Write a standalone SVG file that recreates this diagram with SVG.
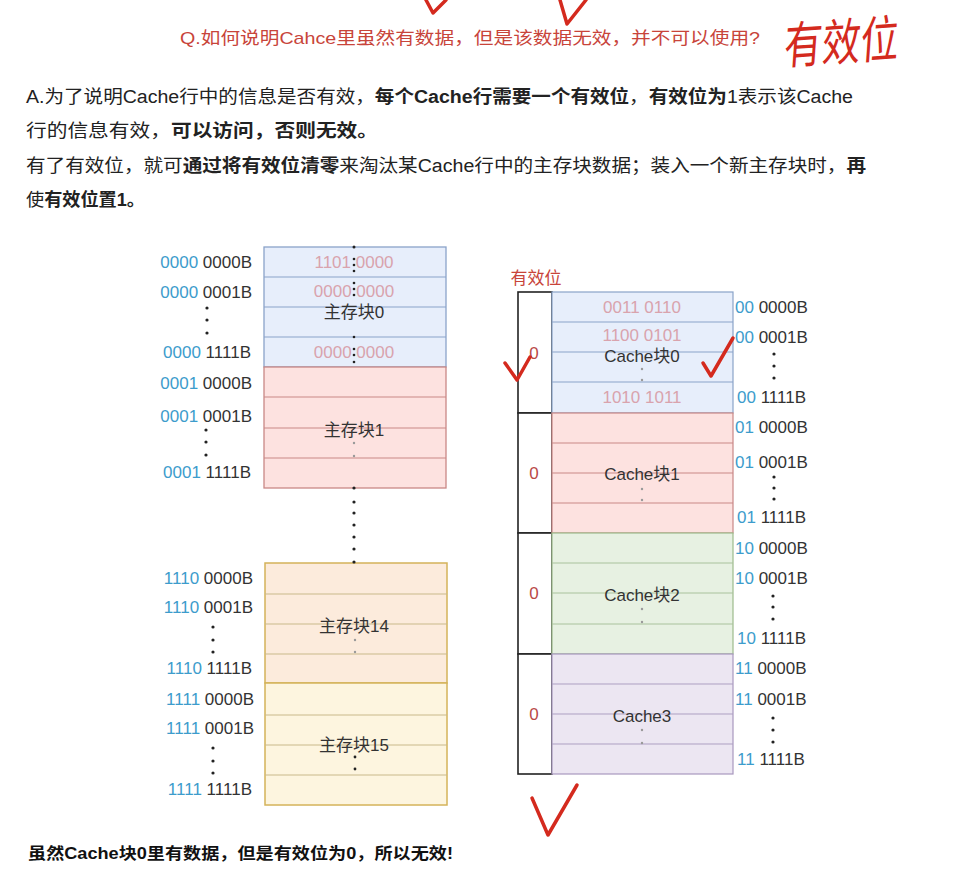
<svg xmlns="http://www.w3.org/2000/svg" width="972" height="896" viewBox="0 0 972 896">
<style>
text{font-family:"Liberation Sans","Noto Sans CJK SC",sans-serif;}
.q{font-size:17px;fill:#c8443a;}
.p{font-size:18px;fill:#222;}
.b{font-weight:bold;}
.addr{font-size:17px;fill:#333;}
.blu{fill:#3d9ccc;}
.pk{font-size:17px;fill:#d9a3ad;text-anchor:middle;}
.lbl{font-size:17px;fill:#333;text-anchor:middle;}
.v{font-size:17px;fill:#b94a48;text-anchor:middle;}
.row{stroke-width:1;fill:none;}
.dot{fill:#222;}
.dim{fill:#999;}
.hand{fill:none;stroke:#d42a1e;stroke-width:3.5;stroke-linecap:round;stroke-linejoin:round;}
.vb{fill:#fff;stroke:#222;stroke-width:1.6;}
</style>
<rect width="972" height="896" fill="#fff"/>

<!-- Header texts -->
<g id="question">
<text class="q" x="180" y="44" textLength="580" lengthAdjust="spacingAndGlyphs">Q.如何说明Cahce里虽然有数据，但是该数据无效，并不可以使用?</text>
</g>
<g id="answer">
<text class="p" x="26" y="103" textLength="827" lengthAdjust="spacingAndGlyphs">A.为了说明Cache行中的信息是否有效，<tspan class="b">每个Cache行需要一个有效位</tspan>，<tspan class="b">有效位为</tspan>1表示该Cache</text>
<text class="p" x="26" y="137" textLength="352" lengthAdjust="spacingAndGlyphs">行的信息有效，<tspan class="b">可以访问，否则无效。</tspan></text>
<text class="p" x="26" y="172" textLength="840" lengthAdjust="spacingAndGlyphs">有了有效位，就可<tspan class="b">通过将有效位清零</tspan>来淘汰某Cache行中的主存块数据；装入一个新主存块时，<tspan class="b">再</tspan></text>
<text class="p" x="26" y="206" textLength="119" lengthAdjust="spacingAndGlyphs">使<tspan class="b">有效位置1。</tspan></text>
</g>

<!-- Main memory blocks -->
<g id="mem0">
<rect x="264" y="247" width="182" height="120" fill="#e7eefb" stroke="#8aa3c9" stroke-width="1.3"/>
<path class="row" stroke="#8aa3c9" d="M264 277H446M264 307H446M264 337H446"/>
<text class="pk" x="354" y="268">1101 0000</text>
<text class="pk" x="354" y="297">0000 0000</text>
<text class="lbl" x="354" y="318">主存块0</text>
<text class="pk" x="354" y="358">0000 0000</text>
<g class="dot"><circle cx="354" cy="247" r="1.5"/><circle cx="354" cy="259" r="1.3"/><circle cx="354" cy="265" r="1.3"/><circle cx="354" cy="271" r="1.3"/><circle cx="354" cy="283" r="1.3"/><circle cx="354" cy="289" r="1.3"/><circle cx="354" cy="295" r="1.3"/><circle cx="354" cy="337" r="1.3"/><circle cx="354" cy="349" r="1.3"/><circle cx="354" cy="355" r="1.3"/><circle cx="354" cy="362" r="1.3"/></g>
</g>
<g id="mem1">
<rect x="264" y="367" width="182" height="121" fill="#fde2e0" stroke="#c98886" stroke-width="1.3"/>
<path class="row" stroke="#c98886" d="M264 397H446M264 428H446M264 458H446"/>
<text class="lbl" x="354" y="436">主存块1</text>
<circle class="dim" cx="354" cy="443" r="1.2"/><circle class="dim" cx="354" cy="456" r="1.2"/>
</g>
<g id="mem14">
<rect x="265" y="563" width="182" height="120" fill="#fcebdc" stroke="#d4b35a" stroke-width="1.5"/>
<path class="row" stroke="#c9b98a" d="M265 594H447M265 624H447M265 654H447"/>
<text class="lbl" x="354" y="632">主存块14</text>
<circle class="dim" cx="355" cy="640" r="1.2"/><circle class="dim" cx="355" cy="652" r="1.2"/>
</g>
<g id="mem15">
<rect x="265" y="683" width="182" height="122" fill="#fdf5df" stroke="#d4b35a" stroke-width="1.5"/>
<path class="row" stroke="#c9b98a" d="M265 715H447M265 745H447M265 775H447"/>
<text class="lbl" x="354" y="751">主存块15</text>
<circle class="dot" cx="355" cy="757" r="1.4"/><circle class="dot" cx="355" cy="769" r="1.4"/>
</g>

<!-- Left address labels -->
<g id="mem-addresses">
<text class="addr" x="252" y="268" text-anchor="end"><tspan class="blu">0000</tspan> 0000B</text>
<text class="addr" x="252" y="298" text-anchor="end"><tspan class="blu">0000</tspan> 0001B</text>
<g class="dot"><circle cx="207" cy="308" r="1.6"/><circle cx="207" cy="320" r="1.6"/><circle cx="207" cy="333" r="1.6"/></g>
<text class="addr" x="251" y="358" text-anchor="end"><tspan class="blu">0000</tspan> 1111B</text>
<text class="addr" x="252" y="389" text-anchor="end"><tspan class="blu">0001</tspan> 0000B</text>
<text class="addr" x="252" y="422" text-anchor="end"><tspan class="blu">0001</tspan> 0001B</text>
<g class="dot"><circle cx="206" cy="430" r="1.6"/><circle cx="206" cy="442" r="1.6"/><circle cx="206" cy="455" r="1.6"/></g>
<text class="addr" x="251" y="478" text-anchor="end"><tspan class="blu">0001</tspan> 1111B</text>
<text class="addr" x="253" y="584" text-anchor="end"><tspan class="blu">1110</tspan> 0000B</text>
<text class="addr" x="253" y="613" text-anchor="end"><tspan class="blu">1110</tspan> 0001B</text>
<g class="dot"><circle cx="213" cy="627" r="1.6"/><circle cx="213" cy="640" r="1.6"/><circle cx="213" cy="652" r="1.6"/></g>
<text class="addr" x="252" y="674" text-anchor="end"><tspan class="blu">1110</tspan> 1111B</text>
<text class="addr" x="254" y="705" text-anchor="end"><tspan class="blu">1111</tspan> 0000B</text>
<text class="addr" x="254" y="734" text-anchor="end"><tspan class="blu">1111</tspan> 0001B</text>
<g class="dot"><circle cx="213" cy="748" r="1.6"/><circle cx="213" cy="761" r="1.6"/><circle cx="213" cy="773" r="1.6"/></g>
<text class="addr" x="252" y="795" text-anchor="end"><tspan class="blu">1111</tspan> 1111B</text>
</g>

<!-- Connectors (dotted continuation) -->
<g id="connectors" class="dot">
<circle cx="354" cy="488" r="1.6"/><circle cx="354" cy="502" r="1.6"/><circle cx="354" cy="513" r="1.6"/><circle cx="354" cy="525" r="1.6"/><circle cx="354" cy="537" r="1.6"/><circle cx="354" cy="549" r="1.6"/><circle cx="354" cy="562" r="1.6"/>
</g>

<!-- Valid bit label -->
<g id="valid-title"><text x="536" y="284" font-size="17" fill="#c8443a" text-anchor="middle">有效位</text></g>

<!-- Valid bits -->
<g id="valid0"><rect class="vb" x="518" y="292" width="34" height="121"/><text class="v" x="534" y="359">0</text></g>
<g id="valid1"><rect class="vb" x="518" y="413" width="34" height="120"/><text class="v" x="534" y="479">0</text></g>
<g id="valid2"><rect class="vb" x="518" y="533" width="34" height="121"/><text class="v" x="534" y="599">0</text></g>
<g id="valid3"><rect class="vb" x="518" y="654" width="34" height="120"/><text class="v" x="534" y="720">0</text></g>

<!-- Cache blocks -->
<g id="cache0">
<rect x="552" y="292" width="181" height="121" fill="#e7eefb" stroke="#8aa3c9" stroke-width="1.2"/>
<path class="row" stroke="#8aa3c9" d="M552 322H733M552 352H733M552 382H733"/>
<text class="pk" x="642" y="313">0011 0110</text>
<text class="pk" x="642" y="341">1100 0101</text>
<text class="lbl" x="642" y="362">Cache块0</text>
<text class="pk" x="642" y="403">1010 1011</text>
<circle class="dim" cx="642" cy="369" r="1.2"/><circle class="dim" cx="642" cy="380" r="1.2"/>
</g>
<g id="cache1">
<rect x="552" y="413" width="181" height="120" fill="#fde2e0" stroke="#c98886" stroke-width="1.2"/>
<path class="row" stroke="#c98886" d="M552 443H733M552 473H733M552 503H733"/>
<text class="lbl" x="642" y="480">Cache块1</text>
<circle class="dim" cx="642" cy="489" r="1.2"/><circle class="dim" cx="642" cy="500" r="1.2"/>
</g>
<g id="cache2">
<rect x="552" y="533" width="181" height="121" fill="#e7f1e2" stroke="#9dbb8c" stroke-width="1.2"/>
<path class="row" stroke="#a9c29c" d="M552 563H733M552 593H733M552 624H733"/>
<text class="lbl" x="642" y="601">Cache块2</text>
<circle class="dim" cx="642" cy="609" r="1.2"/><circle class="dim" cx="642" cy="622" r="1.2"/>
</g>
<g id="cache3">
<rect x="552" y="654" width="181" height="120" fill="#ece6f2" stroke="#a898be" stroke-width="1.2"/>
<path class="row" stroke="#ad9fc2" d="M552 684H733M552 714H733M552 744H733"/>
<text class="lbl" x="642" y="722">Cache3</text>
<circle class="dim" cx="642" cy="730" r="1.2"/><circle class="dim" cx="642" cy="743" r="1.2"/>
</g>

<!-- Right address labels -->
<g id="cache-addresses">
<text class="addr" x="735" y="313"><tspan class="blu">00</tspan> 0000B</text>
<text class="addr" x="735" y="343"><tspan class="blu">00</tspan> 0001B</text>
<g class="dot"><circle cx="774" cy="354" r="1.6"/><circle cx="774" cy="366" r="1.6"/><circle cx="774" cy="378" r="1.6"/></g>
<text class="addr" x="737" y="403"><tspan class="blu">00</tspan> 1111B</text>
<text class="addr" x="735" y="433"><tspan class="blu">01</tspan> 0000B</text>
<text class="addr" x="735" y="468"><tspan class="blu">01</tspan> 0001B</text>
<g class="dot"><circle cx="774" cy="477" r="1.6"/><circle cx="774" cy="488" r="1.6"/><circle cx="774" cy="499" r="1.6"/></g>
<text class="addr" x="737" y="523"><tspan class="blu">01</tspan> 1111B</text>
<text class="addr" x="735" y="554"><tspan class="blu">10</tspan> 0000B</text>
<text class="addr" x="735" y="584"><tspan class="blu">10</tspan> 0001B</text>
<g class="dot"><circle cx="773" cy="596" r="1.6"/><circle cx="773" cy="607" r="1.6"/><circle cx="773" cy="619" r="1.6"/></g>
<text class="addr" x="737" y="644"><tspan class="blu">10</tspan> 1111B</text>
<text class="addr" x="735" y="674"><tspan class="blu">11</tspan> 0000B</text>
<text class="addr" x="735" y="705"><tspan class="blu">11</tspan> 0001B</text>
<g class="dot"><circle cx="773" cy="718" r="1.6"/><circle cx="773" cy="730" r="1.6"/><circle cx="773" cy="742" r="1.6"/></g>
<text class="addr" x="737" y="765"><tspan class="blu">11</tspan> 1111B</text>
</g>

<!-- Bottom conclusion -->
<g id="conclusion">
<text x="28" y="859" font-size="16" font-weight="bold" fill="#111" textLength="425" lengthAdjust="spacingAndGlyphs">虽然Cache块0里有数据，但是有效位为0，所以无效!</text>
</g>

<!-- Handwritten annotations -->
<g id="annotations">
<path class="hand" d="M426 0L433 13L446 0"/>
<path class="hand" d="M560 0L567 24L586 0"/>
<path class="hand" d="M505 363L517 380L530 357"/>
<path class="hand" d="M703 363L711 376L733 338"/>
<path class="hand" d="M532 798L548 835L577 785"/>
<text x="790" y="60" font-size="50" fill="#d42a1e" textLength="115" lengthAdjust="spacingAndGlyphs" transform="rotate(-4 845 40) skewX(-8)">有效位</text>
</g>
</svg>
